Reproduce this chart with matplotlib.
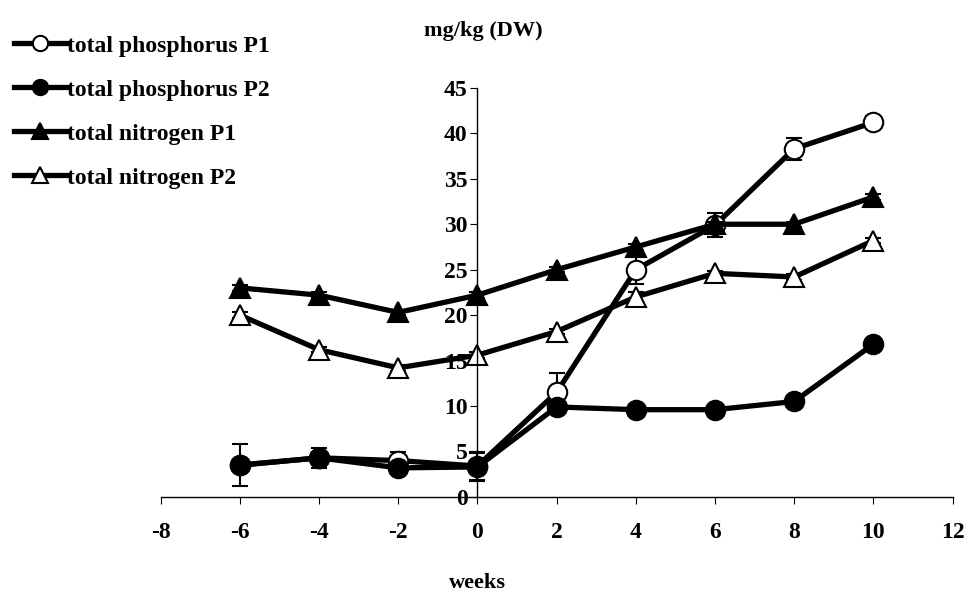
import numpy as np
import matplotlib.pyplot as plt

weeks = [-6, -4, -2, 0, 2, 4, 6, 8, 10]

tp_p1 = [3.5, 4.3, 4.0, 3.4, 11.5, 25.0, 29.9, 38.3, 41.2]
tp_p1_err = [0.3, 0.6, 0.9, 1.5, 2.1, 1.6, 1.3, 1.2, 0.7]
tp_p2 = [3.5, 4.3, 3.2, 3.3, 9.9, 9.6, 9.6, 10.5, 16.8]
tp_p2_err = [2.3, 1.1, 0.5, 1.5, 0.3, 0.3, 0.3, 0.3, 0.3]
tn_p1 = [23.0, 22.2, 20.3, 22.2, 25.0, 27.5, 30.0, 30.0, 33.0]
tn_p1_err = [0.3, 0.3, 0.3, 0.3, 0.3, 0.3, 0.3, 0.3, 0.3]
tn_p2 = [20.0, 16.2, 14.2, 15.6, 18.2, 22.0, 24.6, 24.2, 28.2]
tn_p2_err = [0.3, 0.3, 0.3, 0.3, 0.3, 0.6, 0.3, 0.3, 0.3]

labels = ["total phosphorus P1", "total phosphorus P2",
          "total nitrogen P1", "total nitrogen P2"]


def main() -> None:
    plt.rcParams['font.family'] = ['Liberation Serif', 'DejaVu Serif']
    plt.rcParams['font.weight'] = 'bold'
    plt.rcParams['axes.unicode_minus'] = False

    fig = plt.figure(figsize=(9.68, 5.98), dpi=100)
    ax = fig.add_axes([0.166, 0.169, 0.818, 0.684])

    series = [
        (tp_p1, tp_p1_err, 'o', 'white', 14),
        (tp_p2, tp_p2_err, 'o', 'black', 14),
        (tn_p1, tn_p1_err, '^', 'black', 15),
        (tn_p2, tn_p2_err, '^', 'white', 15),
    ]
    handles = []
    for (vals, err, mk, face, ms), lab in zip(series, labels):
        ax.errorbar(weeks, vals, yerr=err, fmt='none', ecolor='black',
                    elinewidth=1.5, capsize=6, capthick=1.5)
        line, = ax.plot(weeks, vals, '-', color='black', lw=3.8, marker=mk,
                        ms=ms, mfc=face, mec='black', mew=1.5, label=lab)
        handles.append(line)

    ax.set_xlim(-8, 12)
    ax.set_ylim(0, 45)
    ax.set_xticks(np.arange(-8, 13, 2))
    ax.set_yticks(np.arange(0, 46, 5))

    ax.spines['top'].set_visible(False)
    ax.spines['right'].set_visible(False)
    ax.spines['left'].set_position(('data', 0))
    ax.spines['left'].set_linewidth(1.0)
    ax.spines['bottom'].set_linewidth(1.0)

    ax.tick_params(axis='x', direction='out', length=5, pad=13, labelsize=17)
    ax.tick_params(axis='y', direction='out', length=5, pad=2, labelsize=17)
    for t in ax.get_xticklabels() + ax.get_yticklabels():
        t.set_fontweight('bold')

    fig.text(0.499, 0.948, "mg/kg (DW)", ha='center', va='center',
             fontsize=16, fontweight='bold')
    fig.text(0.493, 0.025, "weeks", ha='center', va='center',
             fontsize=16, fontweight='bold')

    leg = fig.legend(handles=handles, loc='upper left',
                     bbox_to_anchor=(0.005, 0.957), frameon=False,
                     handlelength=2.2, handletextpad=0.05, labelspacing=0.95,
                     borderaxespad=0.0, prop={'weight': 'bold', 'size': 17})
    for h in leg.legend_handles:
        h.set_markersize(11)

    fig.savefig("out.png", dpi=100)
    plt.close(fig)


if __name__ == "__main__":
    main()
